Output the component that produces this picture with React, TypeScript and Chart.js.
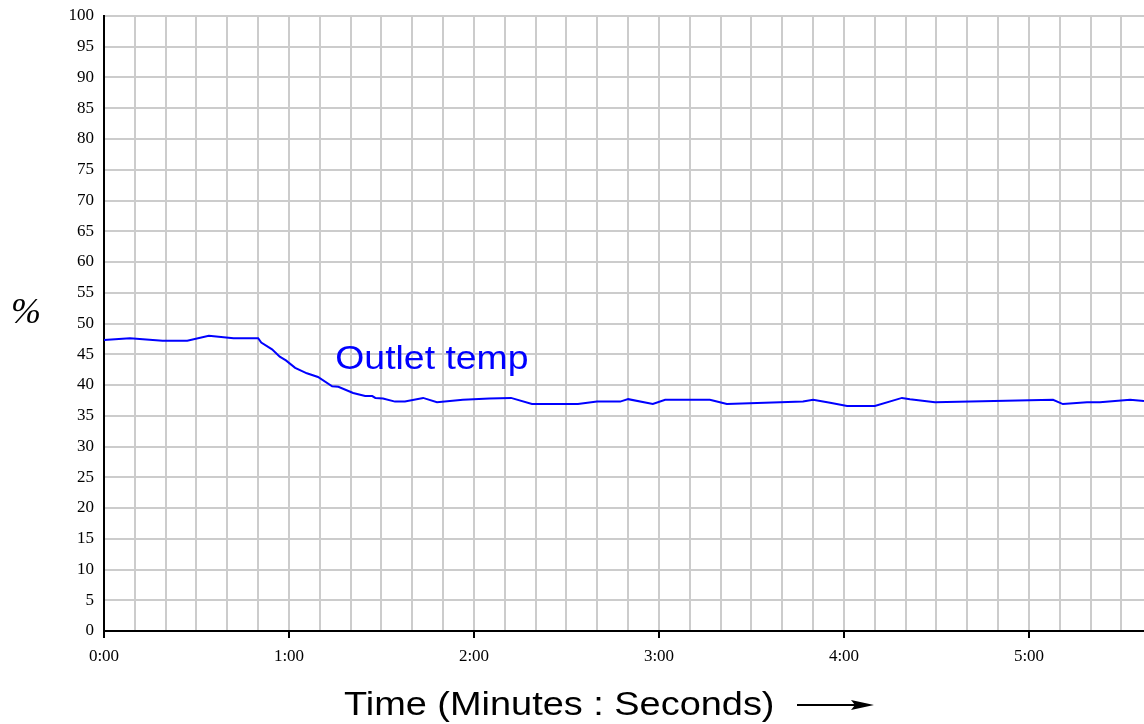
import React, { useEffect, useRef } from "react";
import { Chart, registerables } from "chart.js";

Chart.register(...registerables);

// Time in seconds and outlet temperature in %
const timeSeconds = [
  0, 8.4, 19, 27, 34, 42, 50, 51, 54.5, 57, 59, 62, 65.8, 69.4, 74, 76, 80.8,
  84.7, 87, 88, 90.5, 94.4, 97.6, 103.5, 108, 116.4, 125, 132, 138.8, 153.7,
  159.9, 167.4, 170, 178, 182, 196.5, 202, 226.7, 230, 235.5, 241, 250, 258.8,
  261.4, 269.5, 307.8, 311, 318.8, 323, 332.8, 337.3,
];
const outletTemp = [
  47.3, 47.6, 47.2, 47.2, 48.0, 47.6, 47.6, 46.9, 45.8, 44.6, 44.0, 42.8, 41.9,
  41.3, 39.8, 39.7, 38.7, 38.2, 38.2, 37.9, 37.8, 37.3, 37.3, 37.9, 37.2, 37.6,
  37.8, 37.9, 36.9, 36.9, 37.3, 37.3, 37.7, 36.9, 37.6, 37.6, 36.9, 37.3, 37.6,
  37.1, 36.6, 36.6, 37.9, 37.7, 37.2, 37.6, 36.9, 37.2, 37.2, 37.6, 37.4,
];
const minuteLabels = ["0:00", "1:00", "2:00", "3:00", "4:00", "5:00"];
const gridStepSeconds = 10;
const xMaxSeconds = 337.3;
const seriesLabel = "Outlet temp";
const xTitle = "Time (Minutes : Seconds)";
const yTitle = "%";

const textPlugin = {
  id: "textPlugin",
  afterDraw(chart: any) {
    const ctx = chart.ctx as CanvasRenderingContext2D;
    const xs = chart.scales.x;
    const ys = chart.scales.y;
    ctx.save();
    // series label
    ctx.fillStyle = "#0000ff";
    ctx.font = "34px 'Liberation Sans', Arial, sans-serif";
    ctx.textAlign = "left";
    ctx.textBaseline = "alphabetic";
    const lx = xs.getPixelForValue(75.0);
    const ly = ys.getPixelForValue(42.6);
    ctx.save();
    ctx.translate(lx, ly);
    ctx.scale(1.1, 1);
    ctx.fillText(seriesLabel, 0, 0);
    ctx.restore();

    // y title
    ctx.fillStyle = "#000";
    ctx.font = "italic 36px 'Liberation Serif', 'Times New Roman', serif";
    ctx.textAlign = "center";
    ctx.fillText(yTitle, 26, 323);

    // x title
    ctx.font = "34px 'Liberation Sans', Arial, sans-serif";
    ctx.textAlign = "left";
    ctx.save();
    ctx.translate(344, 715);
    ctx.scale(1.115, 1);
    ctx.fillText(xTitle, 0, 0);
    ctx.restore();

    // arrow
    ctx.strokeStyle = "#000";
    ctx.lineWidth = 2;
    ctx.beginPath();
    ctx.moveTo(797, 705);
    ctx.lineTo(858, 705);
    ctx.stroke();
    ctx.beginPath();
    ctx.moveTo(874, 705);
    ctx.lineTo(851, 700);
    ctx.lineTo(855, 705);
    ctx.lineTo(851, 710);
    ctx.closePath();
    ctx.fill();
    ctx.restore();
  },
};

export default function App() {
  const ref = useRef<HTMLCanvasElement | null>(null);

  useEffect(() => {
    if (!ref.current) return;
    const points = timeSeconds.map((t, i) => ({ x: t, y: outletTemp[i] }));
    const chart = new Chart(ref.current, {
      type: "line",
      data: {
        datasets: [
          {
            label: seriesLabel,
            data: points,
            borderColor: "#0000ff",
            borderWidth: 2,
            pointRadius: 0,
            tension: 0,
            fill: false,
          },
        ],
      },
      options: {
        responsive: false,
        animation: false,
        devicePixelRatio: 1,
        layout: { padding: { top: 16, right: 0, bottom: 0, left: 0 } },
        plugins: {
          legend: { display: false },
          tooltip: { enabled: false },
        },
        scales: {
          x: {
            type: "linear",
            min: 0,
            max: xMaxSeconds,
            afterFit(scale: any) {
              scale.height = 93;
              scale.paddingLeft = 0;
              scale.paddingRight = 0;
            },
            afterBuildTicks(scale: any) {
              const ticks = [];
              for (let v = 0; v <= xMaxSeconds; v += gridStepSeconds) {
                ticks.push({ value: v });
              }
              scale.ticks = ticks;
            },
            grid: {
              color: "#cccccc",
              lineWidth: 2,
              drawTicks: true,
              tickLength: 7,
              tickWidth: 2,
              tickColor: (c: any) =>
                c.tick && c.tick.value % 60 === 0 ? "#000000" : "rgba(0,0,0,0)",
            },
            border: { display: true, color: "#000000", width: 2 },
            ticks: {
              autoSkip: false,
              maxRotation: 0,
              minRotation: 0,
              padding: 8,
              color: "#000",
              font: { family: "'Liberation Serif', 'Times New Roman', serif", size: 17 },
              callback: (value: any) => {
                const v = Number(value);
                return v % 60 === 0 ? minuteLabels[v / 60] ?? "" : "";
              },
            },
          },
          y: {
            min: 0,
            max: 100,
            afterFit(scale: any) {
              scale.width = 104;
              scale.paddingTop = 0;
              scale.paddingBottom = 0;
            },
            grid: {
              color: "#cccccc",
              lineWidth: 2,
              drawTicks: false,
            },
            border: { display: true, color: "#000000", width: 2 },
            ticks: {
              stepSize: 5,
              padding: 10,
              color: "#000",
              font: { family: "'Liberation Serif', 'Times New Roman', serif", size: 17 },
            },
          },
        },
      },
      plugins: [textPlugin],
    });
    return () => chart.destroy();
  }, []);

  return (
    <div style={{ position: "fixed", left: 0, top: 0, width: 1144, height: 724, background: "#fff" }}>
      <canvas ref={ref} width={1144} height={724} />
    </div>
  );
}
